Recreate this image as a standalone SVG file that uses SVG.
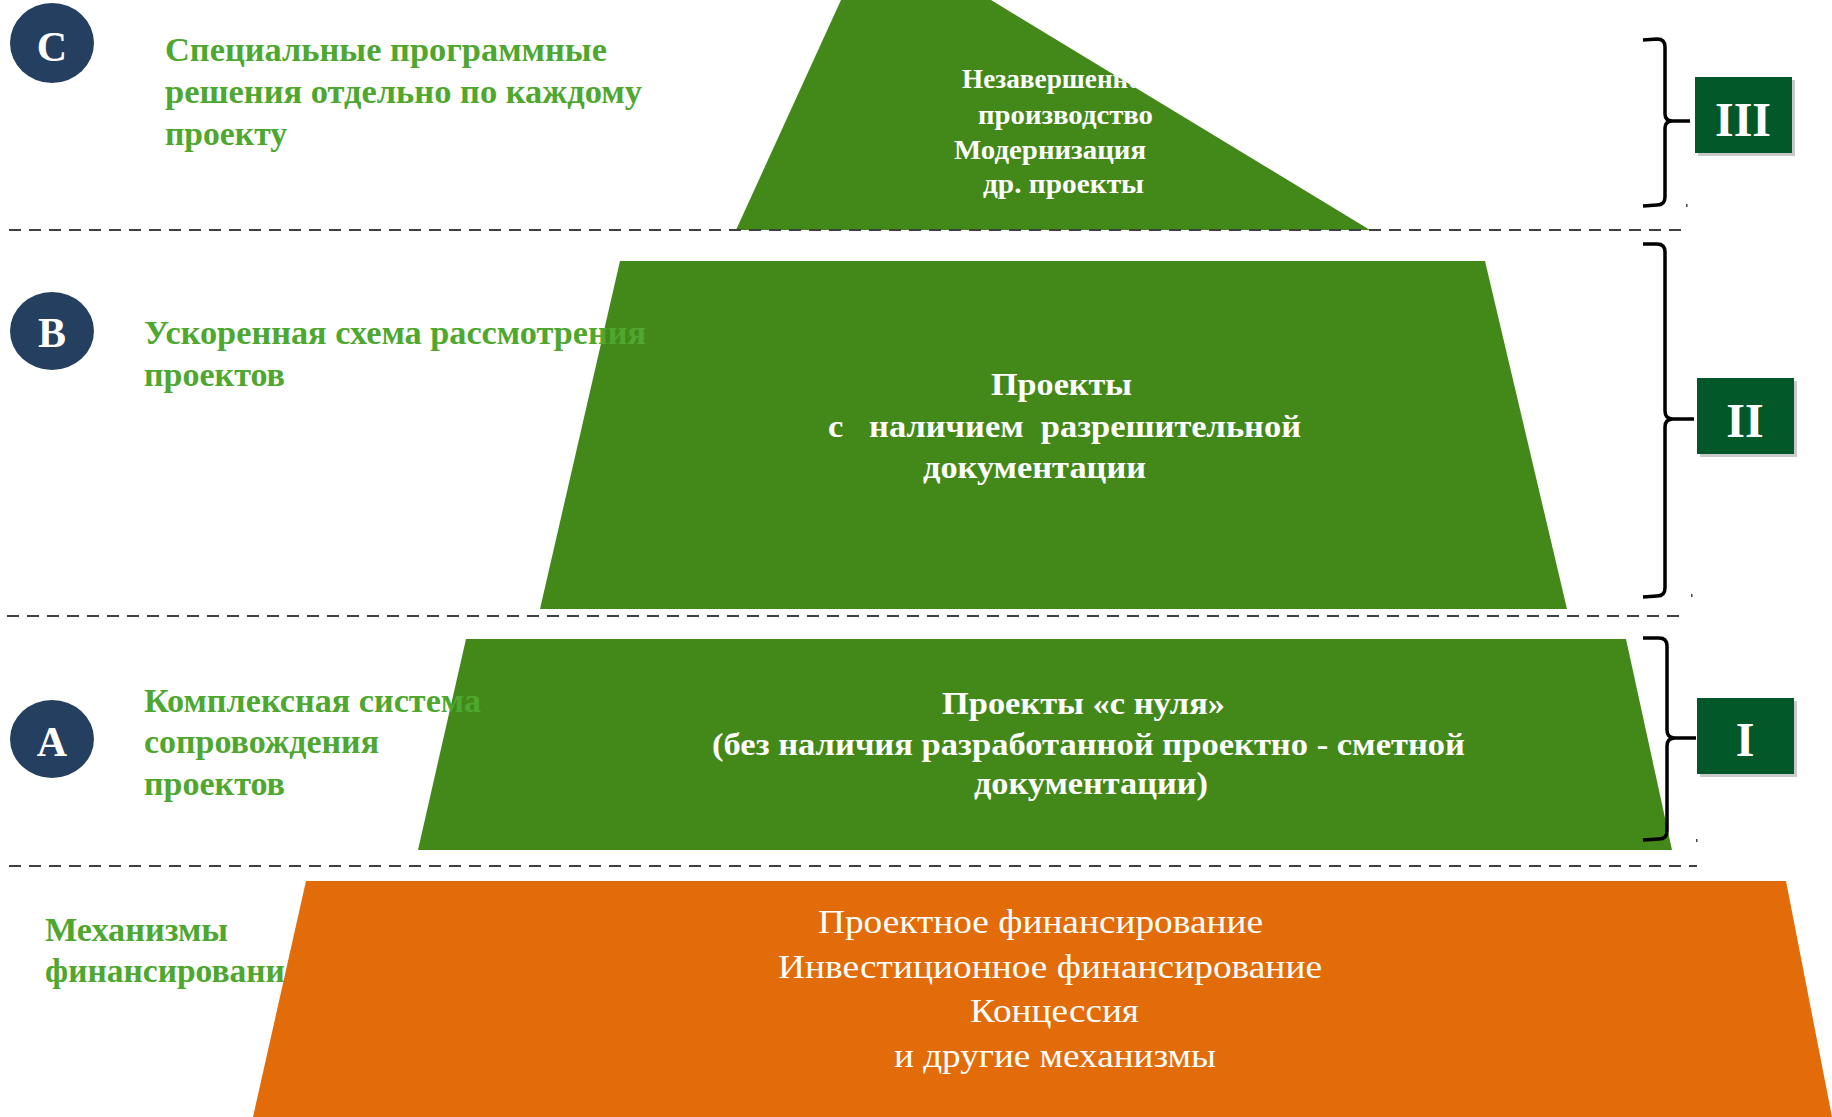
<svg xmlns="http://www.w3.org/2000/svg" width="1832" height="1117" viewBox="0 0 1832 1117">
<style>
.lbl{font-family:"Liberation Serif","Times New Roman",serif;font-weight:bold;font-size:33px;fill:#4EA72E}
.circ{fill:#243F60}
.cl{font-family:"Liberation Serif","Times New Roman",serif;font-weight:bold;font-size:42px;fill:#fff;text-anchor:middle}
.grn{fill:#43891A}
.org{fill:#E36C0A}
.wb{font-family:"Liberation Serif","Times New Roman",serif;font-weight:bold;fill:#fff;white-space:pre}
.wr{font-family:"Liberation Serif","Times New Roman",serif;font-size:34px;fill:#fff}
.box{fill:#03582A}
.shadow{fill:#C9C9C9}
.rn{font-family:"Liberation Serif","Times New Roman",serif;font-weight:bold;font-size:48px;fill:#fff;text-anchor:middle}
.dash{stroke:#404040;stroke-width:2;stroke-dasharray:12 8;fill:none}
.brace{stroke:#000;stroke-width:3.5;fill:none;stroke-linejoin:round}
</style>
<defs>
<clipPath id="clipTop"><polygon points="841,0 991,0 1370,230 736,230"/></clipPath>
</defs>
<rect width="1832" height="1117" fill="#fff"/>

<g id="circle-C"><ellipse class="circ" cx="52" cy="43" rx="42" ry="40"/><text class="cl" x="52" y="61">C</text></g>
<g id="circle-B"><ellipse class="circ" cx="52" cy="331" rx="42" ry="39"/><text class="cl" x="52" y="347">B</text></g>
<g id="circle-A"><ellipse class="circ" cx="52" cy="739" rx="42" ry="39"/><text class="cl" x="52" y="756">A</text></g>

<g id="label-C">
<text class="lbl" x="165" y="61" textLength="442" lengthAdjust="spacingAndGlyphs">Специальные программные</text>
<text class="lbl" x="165" y="103" textLength="477" lengthAdjust="spacingAndGlyphs">решения отдельно по каждому</text>
<text class="lbl" x="165" y="145" textLength="122" lengthAdjust="spacingAndGlyphs">проекту</text>
</g>

<g id="level-III">
<polygon class="grn" points="841,0 991,0 1370,230 736,230"/>
<g clip-path="url(#clipTop)">
<text class="wb" font-size="27" x="962" y="88" textLength="192" lengthAdjust="spacingAndGlyphs">Незавершенное</text>
<text class="wb" font-size="27" x="978" y="124" textLength="175" lengthAdjust="spacingAndGlyphs">производство</text>
<text class="wb" font-size="27" x="954" y="159" textLength="192" lengthAdjust="spacingAndGlyphs">Модернизация</text>
<text class="wb" font-size="27" x="983" y="193" textLength="161" lengthAdjust="spacingAndGlyphs">др. проекты</text>
</g>
</g>

<g id="level-II">
<polygon class="grn" points="620,261 1485,261 1567,609 540,609"/>
<text class="wb" font-size="32" x="991" y="395" textLength="141" lengthAdjust="spacingAndGlyphs">Проекты</text>
<text class="wb" font-size="32" x="828" y="437" textLength="473" lengthAdjust="spacingAndGlyphs">с   наличием  разрешительной</text>
<text class="wb" font-size="32" x="923" y="478" textLength="223" lengthAdjust="spacingAndGlyphs">документации</text>
</g>

<g id="level-I">
<polygon class="grn" points="466,639 1626,639 1672,850 418,850"/>
<text class="wb" font-size="31" x="942" y="714" textLength="283" lengthAdjust="spacingAndGlyphs">Проекты «с нуля»</text>
<text class="wb" font-size="31" x="712" y="755" textLength="753" lengthAdjust="spacingAndGlyphs">(без наличия разработанной проектно - сметной</text>
<text class="wb" font-size="31" x="974" y="794" textLength="234" lengthAdjust="spacingAndGlyphs">документации)</text>
</g>

<g id="label-B">
<text class="lbl" x="144" y="344" textLength="502" lengthAdjust="spacingAndGlyphs">Ускоренная схема рассмотрения</text>
<text class="lbl" x="144" y="386" textLength="141" lengthAdjust="spacingAndGlyphs">проектов</text>
</g>

<g id="label-A">
<text class="lbl" x="144" y="712" textLength="337" lengthAdjust="spacingAndGlyphs">Комплексная система</text>
<text class="lbl" x="144" y="753" textLength="235" lengthAdjust="spacingAndGlyphs">сопровождения</text>
<text class="lbl" x="144" y="795" textLength="141" lengthAdjust="spacingAndGlyphs">проектов</text>
</g>

<g id="label-finance">
<text class="lbl" x="45" y="941" textLength="183" lengthAdjust="spacingAndGlyphs">Механизмы</text>
<text class="lbl" x="45" y="982" textLength="258" lengthAdjust="spacingAndGlyphs">финансирования</text>
</g>

<g id="level-base">
<polygon class="org" points="306,881 1786,881 1832,1117 253,1117"/>
<text class="wr" x="818" y="933" textLength="445" lengthAdjust="spacingAndGlyphs">Проектное финансирование</text>
<text class="wr" x="778" y="978" textLength="544" lengthAdjust="spacingAndGlyphs">Инвестиционное финансирование</text>
<text class="wr" x="970" y="1022" textLength="169" lengthAdjust="spacingAndGlyphs">Концессия</text>
<text class="wr" x="894" y="1067" textLength="322" lengthAdjust="spacingAndGlyphs">и другие механизмы</text>
</g>

<g id="box-III"><rect class="shadow" x="1698" y="80" width="97" height="76"/><rect class="box" x="1695" y="77" width="97" height="76"/><text class="rn" x="1743" y="136">III</text></g>
<g id="box-II"><rect class="shadow" x="1700" y="381" width="97" height="76"/><rect class="box" x="1697" y="378" width="97" height="76"/><text class="rn" x="1745" y="437">II</text></g>
<g id="box-I"><rect class="shadow" x="1700" y="701" width="97" height="76"/><rect class="box" x="1697" y="698" width="97" height="76"/><text class="rn" x="1745" y="756">I</text></g>

<g id="connectors">
<line class="dash" x1="9" y1="230" x2="1687" y2="230"/>
<line class="dash" x1="7" y1="616" x2="1683" y2="616"/>
<line class="dash" x1="9" y1="866" x2="1697" y2="866"/>
<path class="brace" d="M1643,40 L1657,39 Q1665,39 1665,47 L1665,114 Q1665,121 1673,121 L1690,121 M1673,121 Q1665,121 1665,128 L1665,197 Q1665,205 1657,205 L1643,206"/>
<path class="brace" d="M1643,244 L1657,244 Q1665,244 1665,252 L1665,411 Q1665,419 1673,419 L1694,419 M1673,419 Q1665,419 1665,427 L1665,588 Q1665,596 1657,596 L1643,597"/>
<path class="brace" d="M1643,638 L1659,638 Q1667,638 1667,646 L1667,730 Q1667,738 1675,738 L1696,738 M1675,738 Q1667,738 1667,746 L1667,831 Q1667,839 1659,839 L1643,840"/>
<rect x="1686" y="204" width="1.5" height="3" fill="#444"/>
<rect x="1691" y="594" width="1.5" height="3" fill="#444"/>
<rect x="1696" y="839" width="1.5" height="3" fill="#444"/>
</g>
</svg>
